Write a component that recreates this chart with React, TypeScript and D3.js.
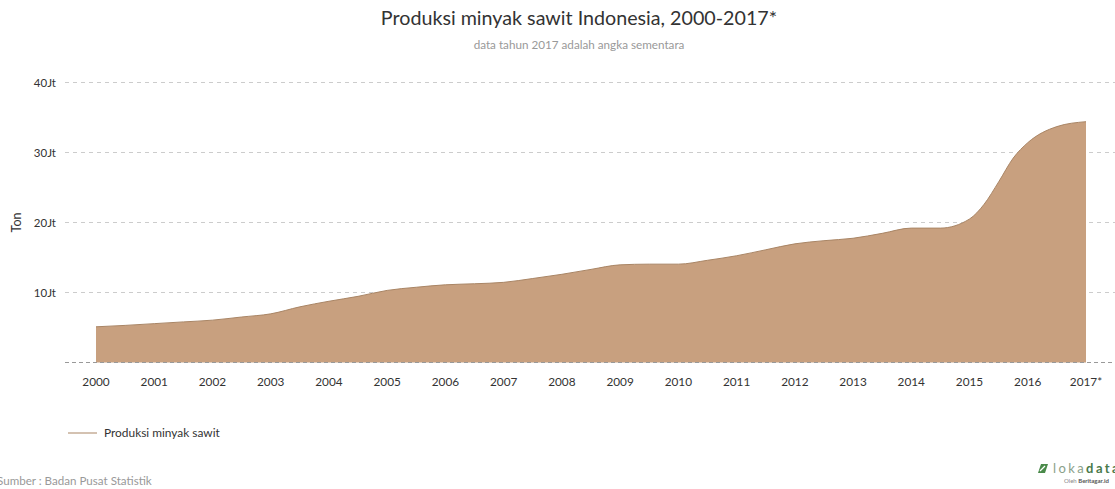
import React from "react";
import * as d3 from "d3";

const years: number[] = [
  2000, 2000.5, 2001, 2001.5, 2002, 2002.5, 2003, 2003.5, 2004, 2004.5,
  2005, 2005.5, 2006, 2006.5, 2007, 2007.5, 2008, 2008.5, 2009, 2009.5,
  2010, 2010.5, 2011, 2011.5, 2012, 2012.5, 2013, 2013.5, 2014, 2014.5,
  2015, 2015.25, 2015.5, 2015.75, 2016, 2016.5, 2017,
];
const production: number[] = [
  5.1, 5.3, 5.55, 5.8, 6.05, 6.5, 6.95, 7.95, 8.75, 9.45,
  10.3, 10.75, 11.1, 11.25, 11.45, 12.0, 12.6, 13.3, 13.95, 14.05,
  14.05, 14.6, 15.25, 16.1, 16.95, 17.4, 17.75, 18.45, 19.2, 19.2,
  20.5, 22.6, 25.8, 29.2, 31.4, 33.7, 34.4,
];
const xTickYears: number[] = [2000, 2001, 2002, 2003, 2004, 2005, 2006, 2007, 2008, 2009, 2010, 2011, 2012, 2013, 2014, 2015, 2016, 2017];
const xTickLabels: string[] = ["2000", "2001", "2002", "2003", "2004", "2005", "2006", "2007", "2008", "2009", "2010", "2011", "2012", "2013", "2014", "2015", "2016", "2017*"];
const yTicks: number[] = [10, 20, 30, 40];
const yTickLabels: string[] = ["10Jt", "20Jt", "30Jt", "40Jt"];

const W = 1115;
const H = 489;
const FONT = "Lato, 'Open Sans', sans-serif";

export default function App() {
  const x = d3.scaleLinear().domain([2000, 2017]).range([96, 1086]);
  const y = d3.scaleLinear().domain([0, 40]).range([362.5, 82.5]);
  const data = years.map((yr, i) => ({ yr, v: production[i] }));
  const area = d3
    .area<{ yr: number; v: number }>()
    .x((d) => x(d.yr))
    .y0(y(0))
    .y1((d) => y(d.v))
    .curve(d3.curveMonotoneX);
  const line = d3
    .line<{ yr: number; v: number }>()
    .x((d) => x(d.yr))
    .y((d) => y(d.v))
    .curve(d3.curveMonotoneX);

  return (
    <svg
      width={W}
      height={H}
      style={{ position: "absolute", left: 0, top: 0, background: "#fff" }}
      fontFamily={FONT}
    >
      <text x={579} y={25} textAnchor="middle" fontSize={19.7} fill="#333">
        Produksi minyak sawit Indonesia, 2000-2017*
      </text>
      <text x={579} y={49} textAnchor="middle" fontSize={11.7} fill="#999">
        data tahun 2017 adalah angka sementara
      </text>

      {yTicks.map((t, i) => (
        <g key={t}>
          <line x1={65} x2={W} y1={y(t)} y2={y(t)} stroke="#ccc" strokeDasharray="4,4" strokeWidth={1} />
          <text x={56} y={y(t) + 4} textAnchor="end" fontSize={11.5} fill="#333">
            {yTickLabels[i]}
          </text>
        </g>
      ))}

      <path d={area(data) || ""} fill="#c8a07f" />
      <path d={line(data) || ""} fill="none" stroke="#a98565" strokeWidth={1} />
      <line x1={65} x2={W} y1={y(0)} y2={y(0)} stroke="#999" strokeDasharray="4,3" strokeWidth={1} />

      {xTickYears.map((t, i) => (
        <text key={t} x={x(t)} y={386} textAnchor="middle" fontSize={11.8} fill="#333">
          {xTickLabels[i]}
        </text>
      ))}

      <text transform={`translate(21,${y(20)}) rotate(-90)`} textAnchor="middle" fontSize={12.5} fill="#333">
        Ton
      </text>

      <line x1={68} x2={97} y1={433} y2={433} stroke="#a98565" strokeWidth={1} />
      <text x={104} y={437} fontSize={11.9} fill="#333">
        Produksi minyak sawit
      </text>

      <text x={-3} y={485} fontSize={11.6} fill="#999">
        Sumber : Badan Pusat Statistik
      </text>

      <g transform="translate(1036,463)">
        <path d="M2,10 L5,1 L12,1 L9,10 Z" fill="#4a8a4a" />
        <path d="M4,8 L9,3" stroke="#fff" strokeWidth={1.2} />
      </g>
      <text x={1053} y={473} fontSize={13} fill="#8aa18a" letterSpacing={2.4}>
        loka<tspan fill="#4a7a4a" fontWeight="bold">data</tspan>
      </text>
      <text x={1064} y={483} fontSize={6} fill="#888">
        Oleh <tspan fontWeight="bold" fill="#555">Beritagar.id</tspan>
      </text>
    </svg>
  );
}
